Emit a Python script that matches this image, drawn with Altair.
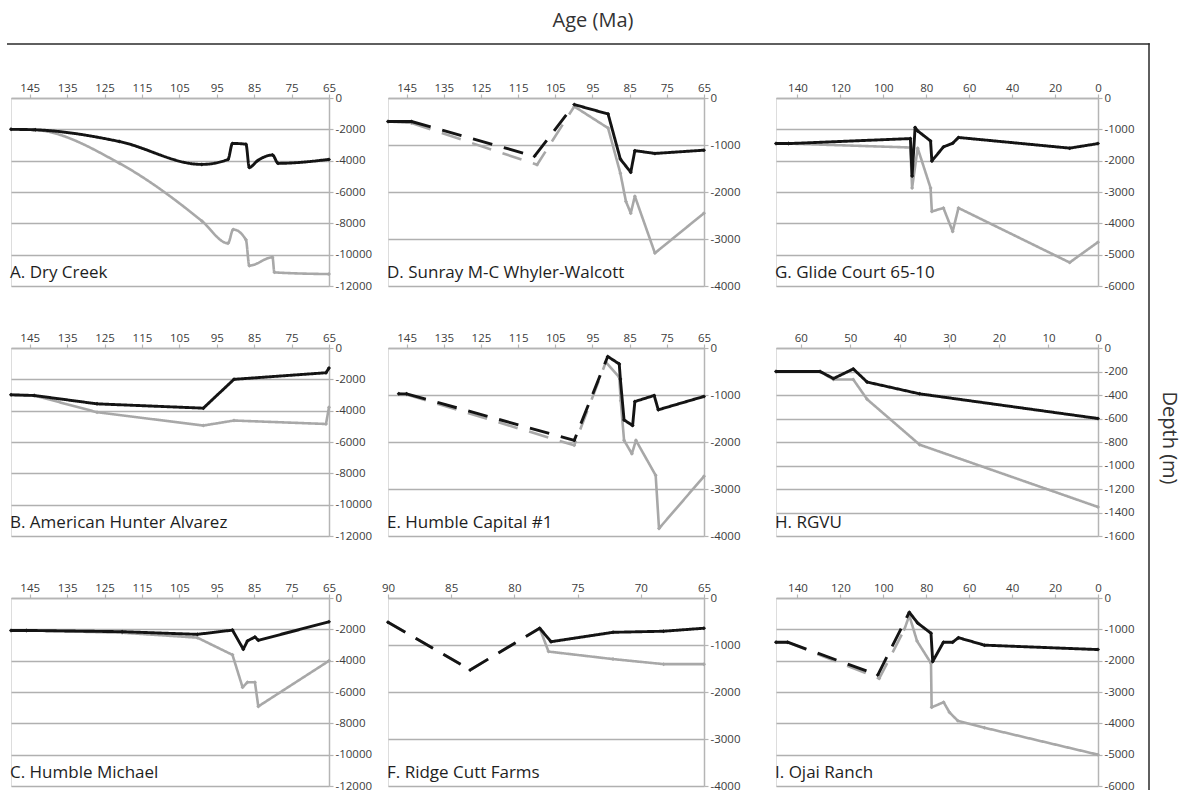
import altair as alt
import pandas as pd

# ---------------- well data: age (Ma) and depth (m) ----------------
# A. Dry Creek
a_black_age = [150, 143.5, 121, 99, 92, 90.8, 87.2, 86.3, 84.1, 80.1, 78.6, 65]
a_black_depth = [-2000, -2030, -2780, -4240, -3920, -2900, -2950, -4430, -4000, -3640, -4170, -3920]
a_gray_age = [150, 144, 121, 99, 92, 90.6, 87.2, 86.3, 80.1, 79.6, 65]
a_gray_depth = [-2000, -2030, -4170, -7850, -9270, -8390, -9050, -10700, -10170, -11130, -11240]

# B. American Hunter Alvarez
b_black_age = [150, 143.8, 127, 98.6, 90.4, 65.8, 65]
b_black_depth = [-2990, -3030, -3565, -3840, -2000, -1580, -1280]
b_gray_age = [150, 143.8, 127, 98.6, 90.4, 65.8, 65]
b_gray_depth = [-2990, -3030, -4100, -4950, -4630, -4850, -3780]

# C. Humble Michael
c_black_age = [150, 145.9, 120.3, 100.2, 90.8, 87.9, 86.8, 84.8, 83.9, 65]
c_black_depth = [-2070, -2070, -2150, -2320, -2050, -3270, -2740, -2490, -2700, -1520]
c_gray_age = [150, 145.9, 120.3, 100.2, 90.8, 88.1, 86.8, 84.8, 83.9, 65]
c_gray_depth = [-2070, -2070, -2215, -2530, -3630, -5700, -5380, -5380, -6920, -4010]

# D. Sunray M-C Whyler-Walcott
d_black_age = [150, 143.7, 110.6, 99.9, 90.8, 87.5, 84.7, 83.6, 78.2, 65]
d_black_depth = [-500, -500, -1240, -140, -340, -1300, -1580, -1120, -1180, -1110]
d_gray_age = [150, 143.7, 109.9, 99.9, 90.8, 87.5, 86, 84.7, 83.6, 78.2, 65]
d_gray_depth = [-500, -530, -1420, -180, -640, -1600, -2200, -2450, -2090, -3300, -2450]

# E. Humble Capital #1
e_black_age = [147.1, 145, 99.9, 90.9, 87.8, 87.5, 86.5, 84.2, 83.6, 78.4, 77.3, 65]
e_black_depth = [-975, -975, -1965, -180, -340, -660, -1530, -1650, -1140, -1010, -1315, -1030]
e_gray_age = [147.1, 145, 99.9, 91.4, 87.8, 87.4, 86.5, 84.4, 83.3, 78, 77.1, 65]
e_gray_depth = [-975, -990, -2070, -300, -620, -1120, -1965, -2250, -1965, -2710, -3840, -2730]

# F. Ridge Cutt Farms
f_black_age = [90, 83.5, 78, 77.1, 72.2, 68.2, 65]
f_black_depth = [-514, -1530, -643, -930, -730, -707, -643]
f_gray_age = [90, 83.5, 78, 77.3, 72.2, 68.2, 65]
f_gray_depth = [-514, -1530, -643, -1140, -1300, -1407, -1407]

# G. Glide Court 65-10
g_black_age = [150, 144.2, 87.4, 86.6, 85.2, 84, 78, 77.4, 72, 67.7, 65, 13.2, 0]
g_black_depth = [-1450, -1455, -1295, -2490, -940, -1050, -1370, -2010, -1560, -1445, -1260, -1600, -1455]
g_gray_age = [150, 144.2, 87.4, 86.6, 84, 78, 77.4, 72, 67.7, 65, 13.2, 0]
g_gray_depth = [-1450, -1455, -1580, -2870, -1600, -2870, -3620, -3510, -4260, -3510, -5250, -4600]

# H. RGVU
h_black_age = [65, 56.1, 53.4, 49.4, 46.6, 36, 0]
h_black_depth = [-200, -200, -260, -178, -290, -390, -600]
h_gray_age = [65, 56.1, 53.4, 49.4, 46.6, 36, 0]
h_gray_depth = [-200, -200, -268, -268, -437, -823, -1353]

# I. Ojai Ranch
i_black_age = [150, 144.6, 102.6, 87.9, 84, 77.8, 77, 72, 67.7, 65, 52.9, 0]
i_black_depth = [-1410, -1410, -2460, -455, -800, -1125, -2025, -1410, -1410, -1267, -1505, -1646]
i_gray_age = [150, 144.6, 101.9, 90.2, 87.9, 84.3, 77.8, 77.5, 71.9, 69.2, 65.3, 52.9, 0]
i_gray_depth = [-1410, -1410, -2570, -1000, -560, -1375, -2080, -3490, -3325, -3650, -3920, -4140, -5000]

# axis tick values
ticks_cretaceous = [65, 75, 85, 95, 105, 115, 125, 135, 145]
ticks_late_cret = [65, 70, 75, 80, 85, 90]
ticks_long = [0, 20, 40, 60, 80, 100, 120, 140]
ticks_tertiary = [0, 10, 20, 30, 40, 50, 60]
depth_12000 = [0, -2000, -4000, -6000, -8000, -10000, -12000]
depth_4000 = [0, -1000, -2000, -3000, -4000]
depth_6000 = [0, -1000, -2000, -3000, -4000, -5000, -6000]
depth_1600 = [0, -200, -400, -600, -800, -1000, -1200, -1400, -1600]

BLACK = "#141414"
GRAY = "#a8a8a8"
AXIS_GRAY = "#b5b5b5"
FRAME = "#2a2a2a"
FONT = "Open Sans"
PANEL_H = 188


def series_frame(ages, depths, dash):
    """Split a polyline into solid / dashed pieces sharing their end points."""
    n = len(ages)
    if dash is None:
        cuts = [(0, n - 1, "solid")]
    else:
        s, e = dash
        cuts = []
        if s > 0:
            cuts.append((0, s, "solid"))
        cuts.append((s, e, "dashed"))
        if e < n - 1:
            cuts.append((e, n - 1, "solid"))
    rows = []
    for k, (i0, i1, style) in enumerate(cuts):
        for i in range(i0, i1 + 1):
            rows.append({"age": ages[i], "depth": depths[i], "piece": k,
                         "style": style, "idx": i})
    return pd.DataFrame(rows)


def panel(title, width, xdom, xticks, ydom, yticks,
          black, gray, dash_black=None, dash_gray=None,
          interp="linear", extras=()):
    x = alt.X("age:Q",
              scale=alt.Scale(domain=xdom, reverse=True, nice=False, zero=False),
              axis=alt.Axis(orient="top", values=xticks, title=None, grid=False,
                            domainColor=AXIS_GRAY, domainWidth=1.5,
                            tickColor=AXIS_GRAY, tickWidth=1.2, tickSize=4,
                            labelFontSize=11.5, labelColor="#3c3c3c",
                            labelFont=FONT, labelPadding=1, labelFlush=False))
    y = alt.Y("depth:Q",
              scale=alt.Scale(domain=ydom, nice=False, zero=False),
              axis=alt.Axis(orient="right", values=yticks, title=None, grid=True,
                            gridColor="#b0b0b0", gridWidth=1.5,
                            domainColor=AXIS_GRAY, domainWidth=1.5,
                            tickColor=AXIS_GRAY, tickWidth=1.2, tickSize=4,
                            labelFontSize=11.5, labelColor="#3c3c3c",
                            labelFont=FONT, labelPadding=2, labelFlush=False,
                            labelExpr="datum.value == 0 ? '0' : '-' + format(abs(datum.value), 'd')"))
    dash = alt.StrokeDash("style:N",
                          scale=alt.Scale(domain=["solid", "dashed"],
                                          range=[[1, 0], [20, 12]]),
                          legend=None)
    layers = []
    for color, (ages, depths), dsh, sw in [(GRAY, gray, dash_gray, 2.6),
                                          (BLACK, black, dash_black, 2.9)]:
        df = series_frame(ages, depths, dsh)
        layers.append(
            alt.Chart(df).mark_line(color=color, strokeWidth=sw, interpolate=interp,
                                    strokeJoin="round", strokeCap="butt")
            .encode(x=x, y=y, detail="piece:N", order="idx:Q", strokeDash=dash))
        layers.append(
            alt.Chart(pd.DataFrame({"age": ages, "depth": depths}))
            .mark_point(shape="diamond", filled=True, size=16, color=color, opacity=1)
            .encode(x=x, y=y))
    layers.append(
        alt.Chart(pd.DataFrame({"t": [title]}))
        .mark_text(align="left", baseline="middle", font=FONT, fontSize=17,
                   color="#1e1e1e")
        .encode(text="t:N", x=alt.value(-1), y=alt.value(175)))
    layers.extend(extras)
    return alt.layer(*layers).properties(width=width, height=PANEL_H)


one = pd.DataFrame({"k": [0]})

# invisible anchors marking the page's top-left corner and right margin
origin = alt.Chart(one).mark_rule(strokeOpacity=0, strokeWidth=0.5).encode(
    x=alt.value(-10), x2=alt.value(-9), y=alt.value(-97))
right_edge = alt.Chart(one).mark_rule(strokeOpacity=0, strokeWidth=0.5).encode(
    x=alt.value(410), x2=alt.value(411), y=alt.value(0))
# frame: line across the top and down the right-hand side
frame_top = alt.Chart(one).mark_rule(color=FRAME, strokeWidth=1.5, strokeCap="butt").encode(
    x=alt.value(-4), x2=alt.value(1138.75), y=alt.value(-54))
frame_right = alt.Chart(one).mark_rule(color=FRAME, strokeWidth=1.5, strokeCap="butt").encode(
    x=alt.value(373), y=alt.value(-54.75), y2=alt.value(692))
age_title = alt.Chart(pd.DataFrame({"t": ["Age (Ma)"]})).mark_text(
    font=FONT, fontSize=20, color="#333333", baseline="middle", align="center"
).encode(text="t:N", x=alt.value(205), y=alt.value(-77))
depth_title = alt.Chart(pd.DataFrame({"t": ["Depth (m)"]})).mark_text(
    font=FONT, fontSize=20, color="#333333", angle=90, baseline="middle",
    align="center"
).encode(text="t:N", x=alt.value(393), y=alt.value(90))

W1, W2, W3 = 318, 316, 322

pa = panel("A. Dry Creek", W1, [65, 150], ticks_cretaceous, [-12000, 0], depth_12000,
           (a_black_age, a_black_depth), (a_gray_age, a_gray_depth),
           interp="monotone", extras=(origin, frame_top))
pb = panel("B. American Hunter Alvarez", W1, [65, 150], ticks_cretaceous, [-12000, 0],
           depth_12000, (b_black_age, b_black_depth), (b_gray_age, b_gray_depth))
pc = panel("C. Humble Michael", W1, [65, 150], ticks_cretaceous, [-12000, 0], depth_12000,
           (c_black_age, c_black_depth), (c_gray_age, c_gray_depth))

pd_ = panel("D. Sunray M-C Whyler-Walcott", W2, [65, 150], ticks_cretaceous, [-4000, 0],
            depth_4000, (d_black_age, d_black_depth), (d_gray_age, d_gray_depth),
            dash_black=(1, 3), dash_gray=(1, 3), extras=(age_title,))
pe = panel("E. Humble Capital #1", W2, [65, 150], ticks_cretaceous, [-4000, 0], depth_4000,
           (e_black_age, e_black_depth), (e_gray_age, e_gray_depth),
           dash_black=(1, 3), dash_gray=(1, 3))
pf = panel("F. Ridge Cutt Farms", W2, [65, 90], ticks_late_cret, [-4000, 0], depth_4000,
           (f_black_age, f_black_depth), (f_gray_age, f_gray_depth),
           dash_black=(0, 2), dash_gray=(0, 2))

pg = panel("G. Glide Court 65-10", W3, [0, 150], ticks_long, [-6000, 0], depth_6000,
           (g_black_age, g_black_depth), (g_gray_age, g_gray_depth),
           extras=(frame_right,))
ph = panel("H. RGVU", W3, [0, 65], ticks_tertiary, [-1600, 0], depth_1600,
           (h_black_age, h_black_depth), (h_gray_age, h_gray_depth),
           extras=(depth_title, right_edge))
pi = panel("I. Ojai Ranch", W3, [0, 150], ticks_long, [-6000, 0], depth_6000,
           (i_black_age, i_black_depth), (i_gray_age, i_gray_depth),
           dash_black=(1, 3), dash_gray=(1, 3))

col1 = alt.vconcat(pa, pb, pc, spacing=62, bounds="flush")
col2 = alt.vconcat(pd_, pe, pf, spacing=62, bounds="flush")
col3 = alt.vconcat(pg, ph, pi, spacing=62, bounds="flush")

# flush layout: each nested column counts as zero width, so the spacing is the
# distance between the left edges of neighbouring columns' plots
chart = alt.hconcat(
    col1,
    alt.hconcat(col2, col3, spacing=388, bounds="flush"),
    spacing=377, bounds="flush",
).properties(padding=0).configure_view(stroke=None).configure(background="white")

chart.save("out.html", embed_options={"renderer": "svg", "actions": False})
